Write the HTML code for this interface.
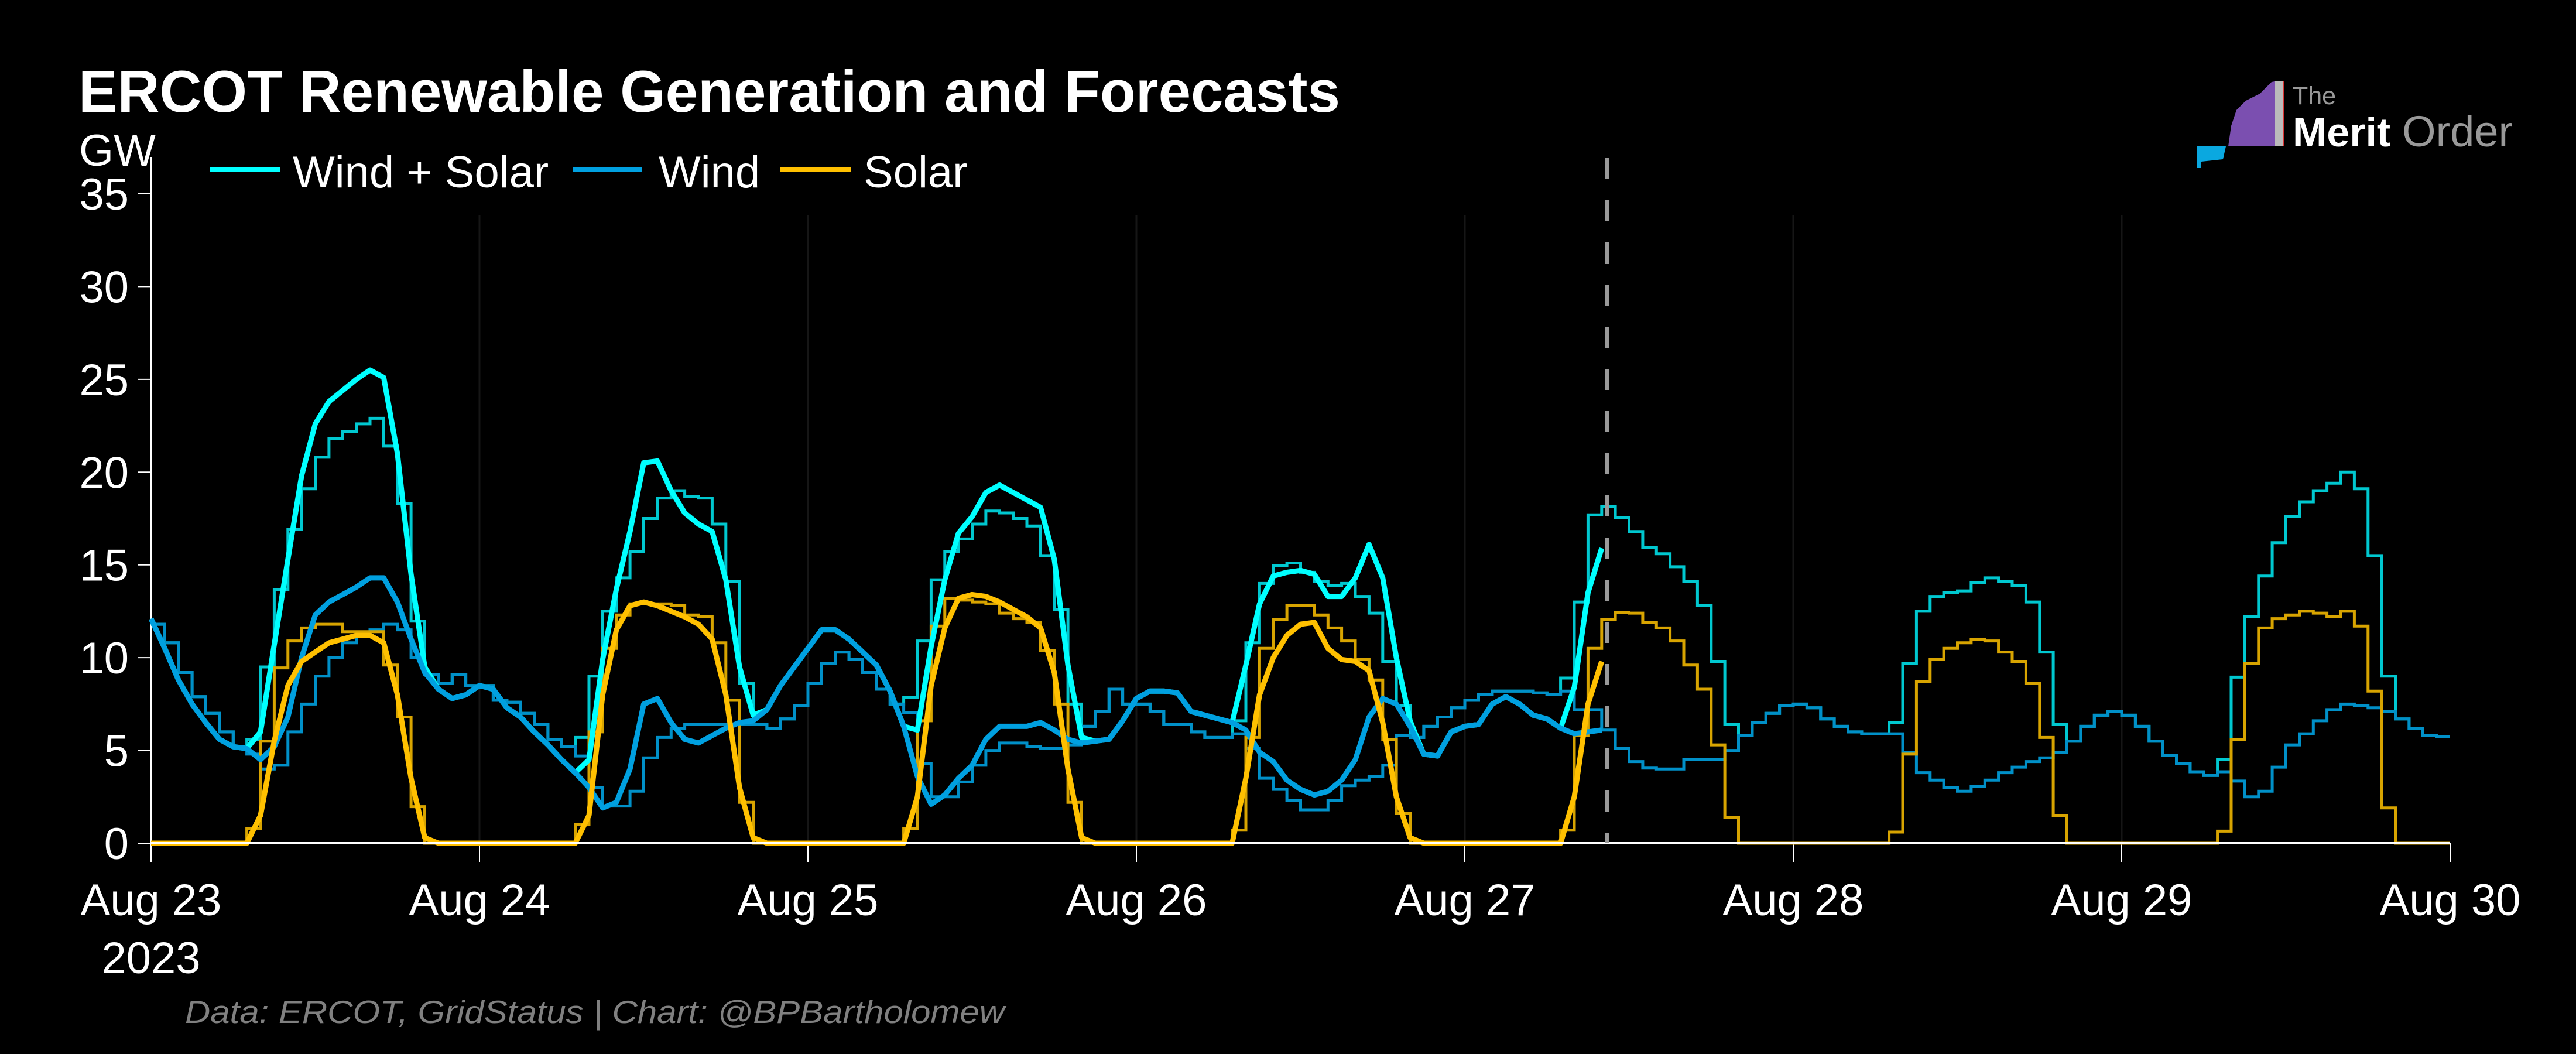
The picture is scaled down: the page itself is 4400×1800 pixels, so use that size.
<!DOCTYPE html>
<html><head><meta charset="utf-8"><style>
html,body{margin:0;padding:0;background:#000;}
svg{display:block;}
text{font-family:"Liberation Sans",Arial,sans-serif;}
</style></head>
<body>
<svg id="chart" width="4400" height="1800" viewBox="0 0 4400 1800" xmlns="http://www.w3.org/2000/svg">
<rect x="0" y="0" width="4400" height="1800" fill="#000"/>
<text x="134" y="191" font-size="101" font-weight="bold" fill="#fff" textLength="2155" lengthAdjust="spacingAndGlyphs">ERCOT Renewable Generation and Forecasts</text>
<text x="135" y="283" font-size="76" fill="#fff">GW</text>
<g>
  <g><line x1="358" y1="290" x2="479" y2="290" stroke="#00FFFF" stroke-width="8"/><text x="500" y="320" font-size="76" fill="#fff">Wind + Solar</text></g>
  <g><line x1="978" y1="290" x2="1096" y2="290" stroke="#00A0E0" stroke-width="8"/><text x="1125" y="320" font-size="76" fill="#fff">Wind</text></g>
  <g><line x1="1332" y1="290" x2="1453" y2="290" stroke="#FFC000" stroke-width="8"/><text x="1475" y="320" font-size="76" fill="#fff">Solar</text></g>
</g>
<g>
  <polygon points="3806,250 3811,215 3820,188 3836,172 3860,160 3880,140 3886,139 3886,250" fill="#7b4fb0"/>
  <rect x="3886" y="139" width="14" height="111" fill="#bbb"/>
  <rect x="3900" y="139" width="2" height="111" fill="#d33"/>
  <polygon points="3753,250 3802,250 3797,272 3760,276 3760,287 3753,287" fill="#0aa8e0"/>
  <text x="3916" y="178" font-size="43" fill="#999">The</text>
  <text x="3916" y="250" font-size="70" font-weight="bold" fill="#fff">Merit</text>
  <text x="4103" y="250" font-size="74" fill="#999">Order</text>
</g>
<text x="316" y="1747" font-size="55" font-style="italic" fill="#808080" textLength="1400" lengthAdjust="spacingAndGlyphs">Data: ERCOT, GridStatus | Chart: @BPBartholomew</text>
<g id="grid"></g>
<g id="axes"></g>
<g id="series"></g>
</svg>
<script>
// ---- data (hourly, starting Aug 23 00:00) ----
const dayLabels = ["Aug 23","Aug 24","Aug 25","Aug 26","Aug 27","Aug 28","Aug 29","Aug 30"];
const yTicks = [0,5,10,15,20,25,30,35];
const forecastIssueHour = 106.4;
const actualWind = [12.1,10.5,8.8,7.5,6.5,5.6,5.2,5.1,4.5,5.2, 6.8,10,12.3,13,13.4,13.8,14.3,14.3,13,11, 9.2,8.3,7.8,8,8.5,8.3,7.3,6.8,6,5.3, 4.5,3.8,3,1.9,2.2,4,7.5,7.8,6.5,5.6, 5.4,5.8,6.2,6.5,6.6,7.2,8.5,9.5,10.5,11.5, 11.5,11,10.3,9.6,8.2,6.3,3.6,2.1,2.6,3.5, 4.2,5.6,6.3,6.3,6.3,6.5,6.1,5.6,5.4,5.5, 5.6,6.6,7.8,8.2,8.2,8.1,7.1,6.9,6.7,6.5, 6.1,4.9,4.4,3.4,2.9,2.6,2.8,3.4,4.5,6.8, 7.8,7.5,6.3,4.8,4.7,6,6.3,6.4,7.5,7.9, 7.5,6.9,6.7,6.2,5.9,6,6.1];
const actualSolar = [0,0,0,0,0,0,0,0,1.5,5.5, 8.5,9.8,10.3,10.8,11,11.2,11.2,10.8,8,3.5, 0.3,0,0,0,0,0,0,0,0,0, 0,0,1.5,8,11.5,12.8,13,12.8,12.5,12.2, 11.8,11,8,3,0.3,0,0,0,0,0, 0,0,0,0,0,0,2.5,8.5,11.6,13.2, 13.4,13.3,13,12.6,12.2,11.6,9.2,4,0.3,0, 0,0,0,0,0,0,0,0,0,0, 3.5,8,10,11.2,11.8,11.9,10.5,9.9,9.8,9.3, 6.5,2.5,0.3,0,0,0,0,0,0,0, 0,0,0,0,2.5,7.5,9.8];
const forecastWind = [11.8,10.8,9.2,7.9,7,6,5.2,4.8,4,4.2, 6,7.5,9,10,10.8,11.2,11.5,11.8,11.5,10, 9.1,8.6,9.1,8.5,8.5,7.7,7.6,7,6.4,5.6, 5.2,4.7,3,2,2,2.8,4.6,5.7,6.2,6.4, 6.4,6.4,6.4,6.4,6.4,6.2,6.7,7.4,8.6,9.7, 10.3,9.9,9.2,8.3,7.5,7.05,4.3,2.5,2.5,3.3, 4.2,5,5.4,5.4,5.2,5.1,5.1,5.3,6.3,7.1, 8.3,7.5,7.5,7.1,6.4,6.4,6,5.7,5.7,5.9, 5.1,3.5,2.9,2.3,1.8,1.8,2.3,3.1,3.4,3.6, 4.2,5.8,5.7,6.3,6.8,7.3,7.7,8,8.2,8.2, 8.2,8.1,8,8.2,7.2,7.2,6.1,5.1,4.4,4.05, 4,4,4.5,4.5,4.5,5,5.8,6.5,7,7.4, 7.5,7.3,6.7,6.3,6,5.9,5.9,5.9,4.9,3.8, 3.4,3,2.8,3.05,3.4,3.8,4.1,4.4,4.6,4.9, 5.5,6.3,6.9,7.1,6.9,6.3,5.5,4.75,4.3,3.85, 3.65,3.85,3.35,2.5,2.8,4.1,5.3,5.9,6.6,7.2, 7.5,7.4,7.3,7.1,6.7,6.2,5.8,5.75];
const forecastSolar = [0,0,0,0,0,0,0,0.8,5.5,9.45, 10.9,11.6,11.8,11.8,11.4,11.4,11.4,9.6,6.8,1.97, 0,0,0,0,0,0,0,0,0,0, 0,1,6,10.5,12.3,12.9,12.9,12.9,12.8,12.3, 12.2,10.8,7.7,2.2,0,0,0,0,0,0, 0,0,0,0,0,0.8,6.6,11.7,13.2,13.1, 13,12.9,12.4,12.1,11.9,10.4,7.5,2.2,0,0, 0,0,0,0,0,0,0,0,0,0.7, 5.7,10.5,12.05,12.8,12.8,12.3,11.6,10.9,9.9,8.8, 5.6,1.6,0,0,0,0,0,0,0,0, 0,0,0,0.7,5.8,10.5,12.05,12.45,12.4,11.9, 11.6,10.9,9.6,8.3,5.3,1.4,0,0,0,0, 0,0,0,0,0,0,0,0.6,4.8,8.7, 9.9,10.5,10.8,11,10.9,10.3,9.8,8.6,5.7,1.5, 0,0,0,0,0,0,0,0,0,0, 0,0.65,5.6,9.7,11.6,12.1,12.3,12.5,12.4,12.2, 12.5,11.7,8.2,1.9,0,0,0,0];

// ---- axes ----
const NS = "http://www.w3.org/2000/svg";
const X0 = 258, X1 = 4185, Y0 = 1440, Y35 = 331;
const totalHours = 168;
function xScale(h){ return X0 + (X1 - X0) * h / totalHours; }
function yScale(v){ return Y0 - (Y0 - Y35) * v / 35; }
function mk(tag, attrs, parent){
  const el = document.createElementNS(NS, tag);
  for (const k in attrs) el.setAttribute(k, attrs[k]);
  parent.appendChild(el);
  return el;
}
const grid = document.getElementById('grid');
const axes = document.getElementById('axes');
const series = document.getElementById('series');

dayLabels.forEach((lab, i) => {
  const x = xScale(i * 24);
  if (i > 0 && i < dayLabels.length - 1) {
    const g = mk('line', {x1:x, y1:367, x2:x, y2:Y0, stroke:'#161616', 'stroke-width':3}, grid);
    
    
  }
  const t = mk('line', {x1:x, y1:Y0, x2:x, y2:1472, stroke:'#fff', 'stroke-width':2}, axes);
  
  
  const tx = mk('text', {x:x, y:1563, 'font-size':76, fill:'#fff', 'text-anchor':'middle'}, axes);
  tx.textContent = lab;
  
  
});
const yr = mk('text', {x:X0, y:1662, 'font-size':76, fill:'#fff', 'text-anchor':'middle'}, axes);
yr.textContent = '2023';



yTicks.forEach(v => {
  const y = yScale(v);
  const t = mk('line', {x1:236, y1:y, x2:X0, y2:y, stroke:'#fff', 'stroke-width':2}, axes);
  
  
  const tx = mk('text', {x:220, y:y + 27, 'font-size':76, fill:'#fff', 'text-anchor':'end'}, axes);
  tx.textContent = String(v);
  
  
});
const ySpine = mk('line', {x1:X0, y1:268, x2:X0, y2:Y0, stroke:'#fff', 'stroke-width':2}, axes);



// ---- series ----
function stepPath(vals){
  let d = '';
  vals.forEach((v, k) => {
    const y = yScale(v).toFixed(1);
    d += (k === 0 ? 'M' : 'L') + xScale(k).toFixed(1) + ',' + y + 'L' + xScale(k + 1).toFixed(1) + ',' + y;
  });
  return d;
}
function linePath(vals){
  return vals.map((v, k) => (k === 0 ? 'M' : 'L') + xScale(k).toFixed(1) + ',' + yScale(v).toFixed(1)).join('');
}
const forecastTotal = forecastWind.map((w, k) => w + forecastSolar[k]);
const actualTotal = actualWind.map((w, k) => w + actualSolar[k]);

const f1 = mk('path', {d:stepPath(forecastTotal), fill:'none', stroke:'#00C8D0', 'stroke-width':5, 'stroke-linejoin':'miter'}, series);


const f2 = mk('path', {d:stepPath(forecastWind), fill:'none', stroke:'#0090C8', 'stroke-width':5}, series);


const f3 = mk('path', {d:stepPath(forecastSolar), fill:'none', stroke:'#D8A400', 'stroke-width':5}, series);



const a1 = mk('path', {d:linePath(actualTotal), fill:'none', stroke:'#00FFFF', 'stroke-width':9, 'stroke-linejoin':'round'}, series);


const a2 = mk('path', {d:linePath(actualWind), fill:'none', stroke:'#00A0E0', 'stroke-width':9, 'stroke-linejoin':'round'}, series);


const a3 = mk('path', {d:linePath(actualSolar), fill:'none', stroke:'#FFC000', 'stroke-width':9, 'stroke-linejoin':'round'}, series);



const xAxisLine = mk('line', {x1:X0, y1:Y0, x2:X1, y2:Y0, stroke:'#fff', 'stroke-width':4}, series);



const nowX = xScale(forecastIssueHour);
const dash = mk('line', {x1:nowX, y1:270, x2:nowX, y2:Y0, stroke:'#999', 'stroke-width':7, 'stroke-dasharray':'36,36'}, series);


</script>
</body></html>
